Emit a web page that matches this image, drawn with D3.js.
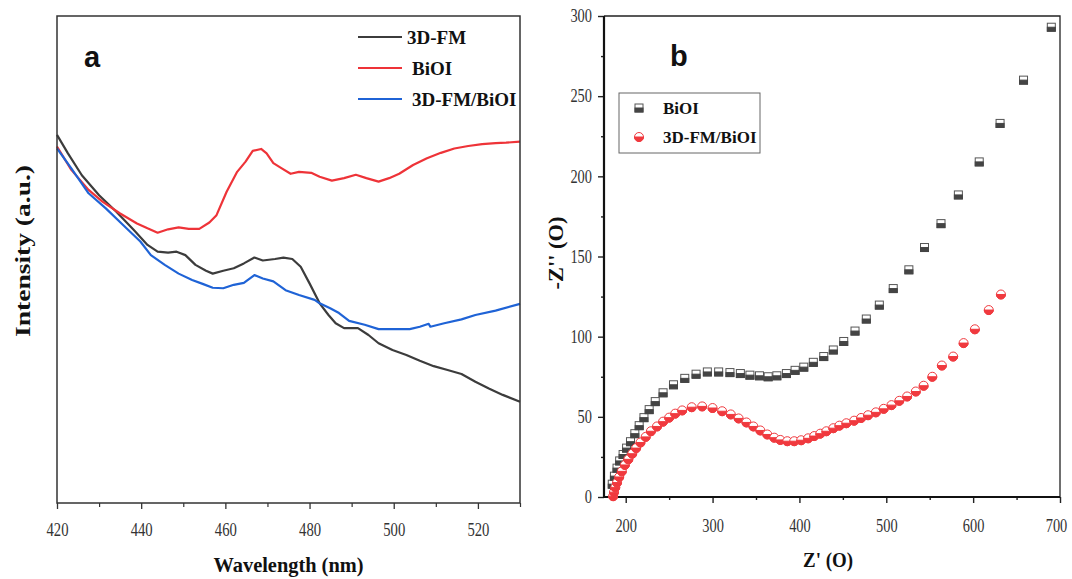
<!DOCTYPE html>
<html><head><meta charset="utf-8">
<script src="https://cdn.jsdelivr.net/npm/d3@7"></script>
<style>body{margin:0;background:#fff}svg{display:block}</style>
</head><body><svg id="c" width="1072" height="579"></svg>
<script>
// ---------- Panel a: spectra ----------
const fmWave=[420,422.6,425.9,430,434.1,438.2,441.5,443.9,446.4,448.4,450.5,452.9,455.4,457,459.5,462,464.4,466.9,468.9,471.8,473.8,475.9,477.9,480,482.4,484.5,486.2,488.2,491.5,494,496.4,499.7,503,506.2,509.5,512.8,516.1,519.4,522.6,525.9,530];
const fmInt=[0.756,0.718,0.673,0.632,0.598,0.561,0.530,0.516,0.514,0.516,0.509,0.489,0.477,0.471,0.477,0.482,0.492,0.504,0.498,0.501,0.504,0.501,0.485,0.451,0.410,0.386,0.369,0.359,0.359,0.345,0.328,0.314,0.304,0.292,0.281,0.273,0.265,0.249,0.235,0.222,0.208];
const bioiWave=[420,423.4,427.5,430.8,434.9,439,441.5,443.9,446.4,448.9,451.3,453.8,456.2,457.9,460.3,462.8,464.8,466.5,468.5,469.8,471.4,473.4,475.5,477.5,480.4,482.4,485.3,488.2,491,493.5,496.4,498.9,501.3,504.6,507.9,511.2,514.4,517.7,521,524.2,526.7,530];
const bioiInt=[0.732,0.684,0.643,0.619,0.595,0.574,0.564,0.555,0.562,0.566,0.563,0.563,0.576,0.591,0.639,0.680,0.701,0.723,0.727,0.718,0.698,0.687,0.676,0.680,0.678,0.670,0.662,0.667,0.674,0.667,0.660,0.667,0.676,0.694,0.708,0.719,0.728,0.733,0.737,0.739,0.740,0.742];
const compWave=[420,423.4,427.5,431.6,435.7,439.8,442.3,445.6,448.9,452.1,454.6,457,459.5,462,464.4,466.9,468.9,471.4,474.3,477.5,481.2,482.4,484.9,487,489.4,493.1,496.4,499.7,503.8,506.2,508.3,508.7,512,516.1,519.4,524.2,530];
const compInt=[0.728,0.687,0.636,0.605,0.571,0.537,0.509,0.489,0.471,0.458,0.450,0.442,0.441,0.448,0.452,0.468,0.461,0.455,0.437,0.427,0.417,0.410,0.400,0.390,0.374,0.366,0.357,0.357,0.357,0.362,0.368,0.362,0.369,0.377,0.386,0.395,0.409];
const waveTicks=[420,440,460,480,500,520];
const waveMinor=[430,450,470,490,510,530];
const specNames=["3D-FM","BiOI","3D-FM/BiOI"];
const specColors=["#3c3c3c","#ee3338","#1f63d6"];

// ---------- Panel b: Nyquist ----------
const bioiZre=[184.5,187,190,193,197,201,205.5,210.5,215.5,221,227,234,243,255,268,281,294,307,320,332,343,354,364,374,385,395,405,416,428,439,451,464,477,492,508,526,544,563,583,607,631,658,690];
const bioiZim=[8,13,18,22.5,26.5,30.5,34.5,39.5,44.5,49.5,54.5,59.5,65,70,74,76.6,78,78,77.6,77,76,75.6,75,75.6,77,79,81,84,87.6,91.7,97,103.5,111,119.7,130,141.7,155.6,170.5,188.4,209,233,260,293];
const compZre=[185.5,186.5,188,190,192.5,195.5,199,203,207.5,212,217,223,229,236,243,250,257,265,276,288,300,311,321,330,339,347,355,363,371,378,386,394,402,410,417,424,431,439,446,454,463,471,479,488,497,506,515,524,534,543,553,564,577,589,602,618,632];
const compZim=[0.5,3,6,9,12.5,16,20,23.5,27,30.5,34,37.5,41,44,47,49.5,52,54,56,56.5,55.5,53.5,51.5,49,46.5,44,41.5,39,37,35.6,34.8,34.8,35.4,36.6,38,39.5,41,42.9,44.5,46,47.6,49.3,51,52.8,55,57.3,60,62.7,65.8,69.4,75,82,87.6,96,104.6,116.6,126.3];
const zreTicks=[200,300,400,500,600,700];
const zreMinor=[250,350,450,550,650];
const zimTicks=[0,50,100,150,200,250,300];
const zimMinor=[25,75,125,175,225,275];
const nyqNames=["BiOI","3D-FM/BiOI"];

const svg=d3.select("#c");
const serif="'Liberation Serif','Times New Roman',serif";
const sans="'Liberation Sans',Arial,sans-serif";

// ===== Panel a =====
const A={l:57,r:520,t:16,b:503};
const xA=d3.scaleLinear().domain([420,530]).range([A.l,A.r]);
const yA=d3.scaleLinear().domain([0,1]).range([A.b,A.t]);
const gA=svg.append("g");

const axA=gA.append("g").attr("transform",`translate(0,${A.b})`)
  .call(d3.axisBottom(xA).tickValues(waveTicks).tickSize(6).tickPadding(14).tickFormat(d3.format("d")));
axA.select(".domain").remove();
axA.selectAll("line").attr("stroke","#333").attr("stroke-width",1.3);
axA.selectAll("text").attr("font-family",serif).attr("font-size",18).attr("fill","#333")
  .attr("textLength",22).attr("lengthAdjust","spacingAndGlyphs");
const axAm=gA.append("g").attr("transform",`translate(0,${A.b})`)
  .call(d3.axisBottom(xA).tickValues(waveMinor).tickSize(4).tickFormat(""));
axAm.select(".domain").remove();
axAm.selectAll("line").attr("stroke","#333").attr("stroke-width",1.2);

const lineA=d3.line().x(d=>xA(d[0])).y(d=>yA(d[1]));
const specData=[
  d3.zip(fmWave,fmInt),
  d3.zip(bioiWave,bioiInt),
  d3.zip(compWave,compInt)
];
gA.selectAll("path.spec").data(specData).join("path").attr("class","spec")
  .attr("d",lineA).attr("fill","none")
  .attr("stroke",(d,i)=>specColors[i]).attr("stroke-width",2.2).attr("stroke-linejoin","round");

gA.append("rect").attr("x",A.l).attr("y",A.t).attr("width",A.r-A.l).attr("height",A.b-A.t)
  .attr("fill","none").attr("stroke","#333").attr("stroke-width",1.5);

// legend a
const legA=gA.append("g");
const legAy=[37,68,99];
const legAtx=[407,412,412];
specNames.forEach((n,i)=>{
  legA.append("line").attr("x1",358).attr("x2",402).attr("y1",legAy[i]).attr("y2",legAy[i])
    .attr("stroke",specColors[i]).attr("stroke-width",2.2);
  legA.append("text").attr("x",legAtx[i]).attr("y",legAy[i]+7).text(n)
    .attr("font-family",serif).attr("font-weight","bold").attr("font-size",19).attr("fill","#111");
});

gA.append("text").attr("x",84).attr("y",67).text("a").attr("font-family",sans).attr("font-weight","bold")
  .attr("font-size",29).attr("fill","#111");
gA.append("text").attr("x",(A.l+A.r)/2).attr("y",572).attr("text-anchor","middle")
  .text("Wavelength (nm)").attr("font-family",serif).attr("font-weight","bold").attr("font-size",21)
  .attr("textLength",150).attr("lengthAdjust","spacingAndGlyphs").attr("fill","#111");
gA.append("text").attr("transform","translate(30,251) rotate(-90)").attr("text-anchor","middle")
  .text("Intensity (a.u.)").attr("font-family",serif).attr("font-weight","bold").attr("font-size",20)
  .attr("textLength",172).attr("lengthAdjust","spacingAndGlyphs").attr("fill","#111");

// ===== Panel b =====
const B={l:604,r:1060,t:16,b:497};
const xB=d3.scaleLinear().domain([175,700]).range([B.l,B.r]);
const yB=d3.scaleLinear().domain([0,300]).range([B.b,B.t]);
const gB=svg.append("g");

function styleAxis(sel,major){
  sel.select(".domain").remove();
  sel.selectAll("line").attr("stroke","#222").attr("stroke-width",1.4);
  if(major) sel.selectAll("text").attr("font-family",serif).attr("font-size",18).attr("fill","#333")
    .each(function(){const t=d3.select(this);const s=t.text();t.attr("textLength",s.length*7.2).attr("lengthAdjust","spacingAndGlyphs");});
}
const axBx=gB.append("g").attr("transform",`translate(0,${B.b})`)
  .call(d3.axisBottom(xB).tickValues(zreTicks).tickSize(6).tickPadding(16).tickFormat(d3.format("d")));
styleAxis(axBx,true);
axBx.selectAll("text").filter(d=>d===700).attr("x",-4);
styleAxis(gB.append("g").attr("transform",`translate(0,${B.b})`)
  .call(d3.axisBottom(xB).tickValues(zreMinor).tickSize(3).tickFormat("")),false);
styleAxis(gB.append("g").attr("transform",`translate(${B.l},0)`)
  .call(d3.axisLeft(yB).tickValues(zimTicks).tickSize(6).tickPadding(6).tickFormat(d3.format("d"))),true);
styleAxis(gB.append("g").attr("transform",`translate(${B.l},0)`)
  .call(d3.axisLeft(yB).tickValues(zimMinor).tickSize(3).tickFormat("")),false);

// frame
gB.append("path").attr("d",`M${B.l},${B.t}H${B.r}V${B.b}`).attr("fill","none").attr("stroke","#222").attr("stroke-width",1.3);
gB.append("path").attr("d",`M${B.l},${B.t}V${B.b}H${B.r}`).attr("fill","none").attr("stroke","#111").attr("stroke-width",2.2);

function halfSquare(g,cx,cy,s){
  g.append("rect").attr("x",cx-s/2).attr("y",cy-s/2).attr("width",s).attr("height",s)
    .attr("fill","#fff").attr("stroke","#555").attr("stroke-width",1);
  g.append("rect").attr("x",cx-s/2).attr("y",cy).attr("width",s).attr("height",s/2)
    .attr("fill","#444").attr("stroke","#444").attr("stroke-width",1);
}
function halfCircle(g,cx,cy,r){
  g.append("circle").attr("cx",cx).attr("cy",cy).attr("r",r)
    .attr("fill","#fff").attr("stroke","#f0393e").attr("stroke-width",1);
  g.append("path").attr("d",`M${cx-r},${cy}A${r},${r} 0 0 0 ${cx+r},${cy}Z`)
    .attr("fill","#f0393e").attr("stroke","#f0393e").attr("stroke-width",1);
}
const ptsB=gB.append("g");
d3.zip(bioiZre,bioiZim).forEach(d=>halfSquare(ptsB,xB(d[0]),yB(d[1]),8));
d3.zip(compZre,compZim).forEach(d=>halfCircle(ptsB,xB(d[0]),yB(d[1]),4.5));

// legend b
const legB=gB.append("g");
legB.append("rect").attr("x",619).attr("y",93).attr("width",141).attr("height",60)
  .attr("fill","#fff").attr("stroke","#666").attr("stroke-width",1);
halfSquare(legB,639,108,8);
halfCircle(legB,639,137,4.5);
[108,137].forEach((y,i)=>legB.append("text").attr("x",663).attr("y",y+6).text(nyqNames[i])
  .attr("font-family",serif).attr("font-weight","bold").attr("font-size",17).attr("fill","#111"));

gB.append("text").attr("x",670).attr("y",66).text("b").attr("font-family",sans).attr("font-weight","bold")
  .attr("font-size",29).attr("fill","#111");
gB.append("text").attr("x",(B.l+B.r)/2-4).attr("y",567).attr("text-anchor","middle")
  .text("Z' (O)").attr("font-family",serif).attr("font-weight","bold").attr("font-size",22)
  .attr("textLength",50).attr("lengthAdjust","spacingAndGlyphs").attr("fill","#111");
gB.append("text").attr("transform","translate(563,253) rotate(-90)").attr("text-anchor","middle")
  .text("-Z'' (O)").attr("font-family",serif).attr("font-weight","bold").attr("font-size",21)
  .attr("textLength",73).attr("lengthAdjust","spacingAndGlyphs").attr("fill","#111");
</script></body></html>
